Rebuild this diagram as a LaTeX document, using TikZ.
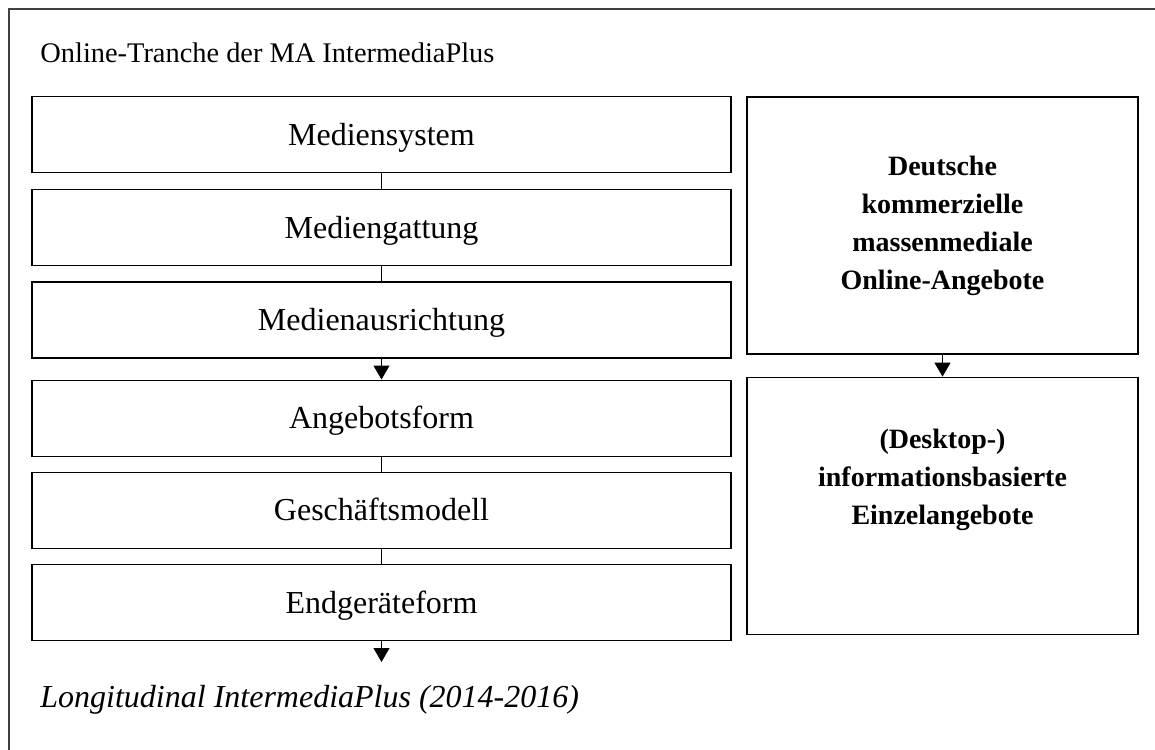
\documentclass[tikz,border=0pt]{standalone}
\usepackage{fontspec}
\setmainfont{Liberation Serif}
\usetikzlibrary{arrows.meta,positioning}

\begin{document}
\begin{tikzpicture}[x=0.5pt, y=-0.5pt, font=\fontsize{14.2}{19}\selectfont]
    % Define styles
    \tikzstyle{level} = [rectangle, draw, line width=0.6pt, minimum width=349.5pt, minimum height=38pt, inner sep=0pt, text height=12pt, text depth=1.5pt, font=\fontsize{16}{19}\selectfont]
    \tikzstyle{offer} = [rectangle, draw, line width=0.6pt, minimum width=195.5pt, minimum height=128.5pt, inner sep=0pt]
    \tikzstyle{offertext} = [text width=190pt, align=center, inner sep=0pt, font=\fontsize{14}{19}\selectfont\bfseries]
    \tikzstyle{link} = [line width=0.6pt]
    \tikzstyle{arrow} = [line width=0.6pt, -{Triangle[width=8pt,length=7pt]}]

    \useasboundingbox (0,0) rectangle (1155,749);
    % Outer frame, cut off at right and bottom
    \draw[black!75, line width=1pt] (1200,9) -- (9,9) -- (9,800);

    \node[anchor=base west, inner sep=0pt] (title) at (40,63) {Online-Tranche der MA IntermediaPlus};

    % Left column
    \node[level] (system) at (381.5,134.5) {Mediensystem};
    \node[level, below=8pt of system] (gattung) {Mediengattung};
    \node[level, below=7.5pt of gattung] (ausrichtung) {Medienausrichtung};
    \node[level, below=10.5pt of ausrichtung] (angebot) {Angebotsform};
    \node[level, below=7.5pt of angebot] (modell) {Geschäftsmodell};
    \node[level, below=7.5pt of modell] (endgeraet) {Endgeräteform};

    % Right column
    \node[offer, offertext] (deutsch) at (942.5,225.5) {Deutsche\\kommerzielle\\massenmediale\\Online-Angebote};
    \node[offer, below=11pt of deutsch, label={[offertext, yshift=13pt]center:(Desktop-)\\informationsbasierte\\Einzelangebote}] (desktop) {};

    \coordinate (ende) at (381.5,662);
    \node[anchor=base west, inner sep=0pt, font=\fontsize{16}{19}\selectfont\itshape] (longi) at (40,707) {Longitudinal IntermediaPlus (2014-2016)};

    % Connectors
    \draw [link] (system) -- (gattung);
    \draw [link] (gattung) -- (ausrichtung);
    \draw [arrow] (ausrichtung) -- (angebot);
    \draw [link] (angebot) -- (modell);
    \draw [link] (modell) -- (endgeraet);
    \draw [arrow] (endgeraet) -- (ende);
    \draw [arrow] (deutsch) -- (desktop);
\end{tikzpicture}
\end{document}
